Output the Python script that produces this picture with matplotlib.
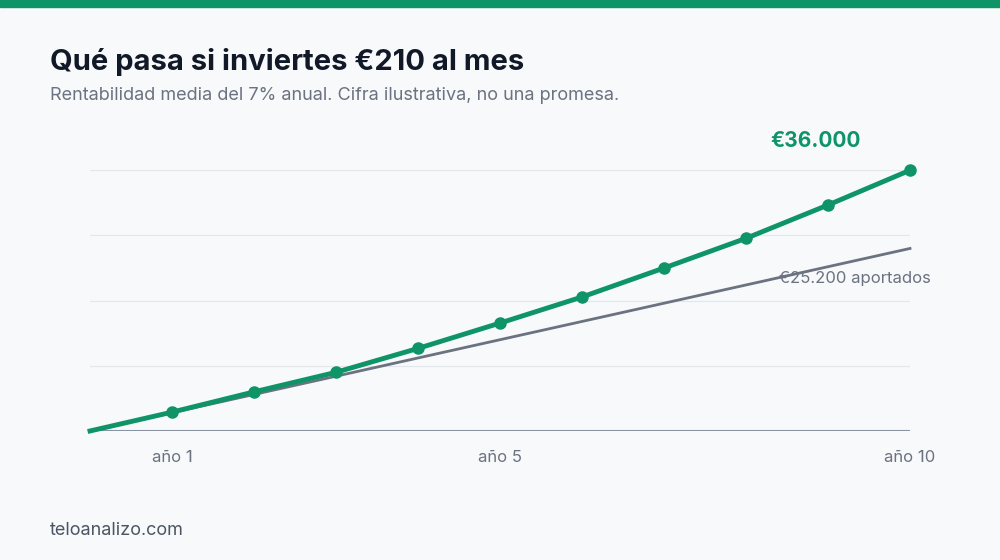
import matplotlib
matplotlib.use("Agg")
import matplotlib.pyplot as plt
from matplotlib.patches import Rectangle

years = [0, 1, 2, 3, 4, 5, 6, 7, 8, 9, 10]
valor = [0, 2600, 5400, 8100, 11400, 14900, 18500, 22500, 26600, 31200, 36000]
aportado = [0, 25200]
aport_years = [0, 10]
tick_years = [1, 5, 10]
tick_labels = ["año 1", "año 5", "año 10"]
grid_vals = [9000, 18000, 27000, 36000]

GREEN = "#0e9467"
GREY = "#6b7280"
BG = "#f7f9fb"
plt.rcParams['font.family'] = ['Inter', 'DejaVu Sans']

fig = plt.figure(figsize=(10, 5.6), dpi=100, facecolor=BG)
fig.patches.append(Rectangle((0, 0.988), 1, 0.012, transform=fig.transFigure, color=GREEN))
ax = fig.add_axes([0.09, 0.2304, 0.82, 0.4656], facecolor=BG)
ax.set_xlim(0, 10); ax.set_ylim(0, 36000)
for g in grid_vals:
    ax.axhline(g, color="#e3e7ec", lw=0.8, zorder=0)
ax.axhline(0, color="#8a93a3", lw=1.5, zorder=1)
ax.plot(aport_years, aportado, color=GREY, lw=2, zorder=2, clip_on=False)
ax.plot(years, valor, color=GREEN, lw=3.5, zorder=3, clip_on=False)
ax.plot(years[1:], valor[1:], "o", color=GREEN, ms=8, zorder=4, clip_on=False)
for s in ax.spines.values():
    s.set_visible(False)
ax.set_yticks([])
ax.set_xticks(tick_years)
ax.set_xticklabels(tick_labels, fontsize=12, color=GREY)
ax.tick_params(axis="x", length=0, pad=14)
ax.text(8.4, 21000, "€25.200 aportados", fontsize=12, color=GREY, ha="left", va="center")
ax.text(8.85, 40000, "€36.000", fontsize=15, color=GREEN, fontweight="bold", ha="center", va="center", clip_on=False)

fig.text(0.05, 0.89, "Qué pasa si inviertes €210 al mes", fontsize=21, fontweight="bold", color="#111827", va="center")
fig.text(0.05, 0.83, "Rentabilidad media del 7% anual. Cifra ilustrativa, no una promesa.", fontsize=13, color=GREY, va="center")
fig.text(0.05, 0.052, "teloanalizo.com", fontsize=13, color="#4b5563", va="center")
fig.savefig("out.png", dpi=100, facecolor=BG)
